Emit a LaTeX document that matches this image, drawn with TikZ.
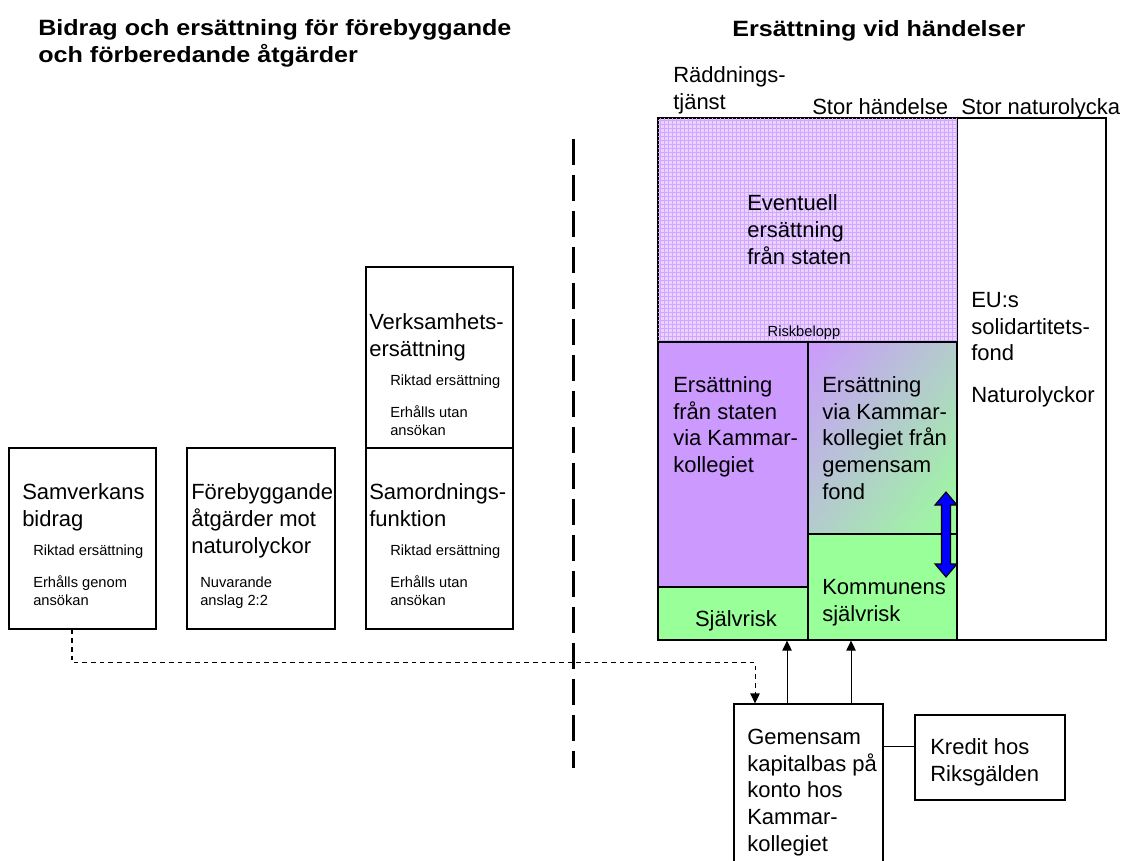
\documentclass[tikz,border=0pt]{standalone}
\usepackage{fontspec}
\setmainfont{Liberation Sans}
\newfontfamily\headingfont{Liberation Sans}[FakeStretch=1.135]
\usetikzlibrary{arrows.meta}
\usetikzlibrary{patterns}
\usetikzlibrary{shadings}
\usetikzlibrary{positioning}
\usetikzlibrary{fit}
\definecolor{latticebg}{HTML}{E9D4FF}
\definecolor{latticeline}{HTML}{D2A6FF}
\definecolor{purplefill}{HTML}{CC99FF}
\definecolor{greenfill}{HTML}{99FF99}
\definecolor{mixfill}{HTML}{B3CCCC}
\definecolor{arrowblue}{HTML}{0000FF}
\tikzset{block/.style={draw, line width=0.8pt, inner sep=0pt}}
\tikzset{connect/.style={draw, line width=0.8pt}}
\tikzset{tip/.style={-{Triangle[length=7.5pt,width=7pt]}}}
\tikzset{big/.style={anchor=base west, inner sep=0pt, align=left, font=\fontsize{16.5}{19.9}\selectfont}}
\tikzset{small/.style={anchor=base west, inner sep=0pt, align=left, font=\fontsize{11}{13.5}\selectfont}}
\tikzset{heading/.style={anchor=base west, inner sep=0pt, align=left, font=\headingfont\bfseries\fontsize{16.6}{20.25}\selectfont}}

\begin{document}
\begin{tikzpicture}[x=0.75pt,y=-0.75pt]
\useasboundingbox (0,0) rectangle (1124,860);

%titles
\node[heading] (lefttitle) at (38,62) {Bidrag och ersättning för förebyggande\\och förberedande åtgärder};
\node[heading] (righttitle) at (732,36.5) {Ersättning vid händelser};

%left blocks
\node[block, fit={(9,448) (156,629)}] (samverkan) {};
\node[block, fit={(187,448) (335,629)}] (forebygg) {};
\node[block, fit={(366,448) (513,629)}] (samordning) {};
\node[block, fit={(366,267) (513,448)}] (verksamhet) {};

\node[big] (samverkantext) at (22,526.5) {Samverkans\\bidrag};
\node[small] (samverkansub) at (33,605) {Riktad ersättning\\[10.5pt]Erhålls genom\\ansökan};
\node[big] (forebyggtext) at (191,553) {Förebyggande\\åtgärder mot\\naturolyckor};
\node[small] (forebyggsub) at (200,605) {Nuvarande\\anslag 2:2};
\node[big] (samordningtext) at (369,526.5) {Samordnings-\\funktion};
\node[small] (samordningsub) at (390,605) {Riktad ersättning\\[10.5pt]Erhålls utan\\ansökan};
\node[big] (verksamhettext) at (369,356.5) {Verksamhets-\\ersättning};
\node[small] (verksamhetsub) at (390,435) {Riktad ersättning\\[10.5pt]Erhålls utan\\ansökan};

%divider
\draw[line width=2.25pt, dash pattern=on 19.5pt off 7.5pt] (573,139) -- (573,768);

%right blocks
\node[block, fit={(957,118) (1106,640)}] (eufond) {};
\node[block, fit={(658,118) (957,342)}, fill=latticebg, postaction={pattern=grid, pattern color=latticeline}] (eventuell) {};
\node[block, fit={(658,342) (808,587)}, fill=purplefill] (statenkk) {};
\node[block, fit={(658,587) (808,640)}, fill=greenfill] (sjalvrisk) {};
\node[block, fit={(808,342) (957,534)}, upper left=purplefill, upper right=mixfill, lower left=mixfill, lower right=greenfill] (gemfond) {};
\node[block, fit={(808,534) (957,640)}, fill=greenfill] (kommunens) {};

\node[big] (raddning) at (673,109.5) {Räddnings-\\tjänst};
\node[big] (storhandelse) at (812,114) {Stor händelse};
\node[big] (stornatur) at (961,114) {Stor naturolycka};
\node[big] (eventuelltext) at (747,264) {Eventuell\\ersättning\\från staten};
\node[small, anchor=base] (riskbelopp) at (804,336) {Riskbelopp};
\node[big] (eutext) at (971,402.5) {EU:s\\solidartitets-\\fond\\[11.5pt]Naturolyckor};
\node[big] (statenkktext) at (673,472.5) {Ersättning\\från staten\\via Kammar-\\kollegiet};
\node[big] (gemfondtext) at (822,499) {Ersättning\\via Kammar-\\kollegiet från\\gemensam\\fond};
\node[big, anchor=base] (sjalvrisktext) at (736,626) {Självrisk};
\node[big] (kommunenstext) at (822,621.5) {Kommunens\\självrisk};

%double arrow
\draw[line width=0.8pt, fill=arrowblue] (946,492) -- (957,505) -- (950.5,505) -- (950.5,564) -- (957,564) -- (946,577) -- (935,564) -- (941.5,564) -- (941.5,505) -- (935,505) -- cycle;

%bottom blocks
\node[block, fit={(734,704) (883,880)}] (gemensam) {};
\node[block, fit={(915,715) (1065,800)}] (kredit) {};
\node[big] (gemensamtext) at (747,851) {Gemensam\\kapitalbas på\\konto hos\\Kammar-\\kollegiet};
\node[big] (kredittext) at (930,781.5) {Kredit hos\\Riksgälden};

%connections
\path[connect,tip] ([xshift=-16.1pt]gemensam.north) -- ([xshift=-16.1pt]gemensam.north |- sjalvrisk.south);
\path[connect,tip] ([xshift=31.9pt]gemensam.north) -- ([xshift=31.9pt]gemensam.north |- kommunens.south);
\path[connect] ([yshift=8.6pt]kredit.west) -- ([yshift=8.6pt]kredit.west -| gemensam.east);
\path[connect,tip,dash pattern=on 3.5pt off 3pt] ([xshift=-7.9pt]samverkan.south) -- ++(0,33) -| ([xshift=-40.1pt]gemensam.north);

\end{tikzpicture}
\end{document}
